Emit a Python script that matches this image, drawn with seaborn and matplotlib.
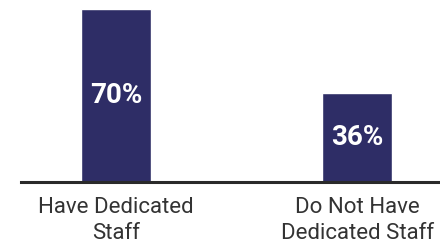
import seaborn as sns
import matplotlib.pyplot as plt
import pandas as pd

categories = ["Have Dedicated\nStaff", "Do Not Have\nDedicated Staff"]
values = [70, 36]
labels = ["70%", "36%"]

sns.set_style("white")
plt.rcParams['font.family'] = ['Roboto', 'DejaVu Sans']

df = pd.DataFrame({"cat": categories, "val": values})

fig = plt.figure(figsize=(4.4, 2.43), dpi=100)
ax = fig.add_axes([21 / 440, 61.5 / 243, 1 - 21 / 440, 172.5 / 243])

sns.barplot(data=df, x="cat", y="val", color="#2e2d66", saturation=1, width=0.29, ax=ax)

ax.bar_label(ax.containers[0], labels=labels, label_type="center",
             color="white", fontsize=20, fontweight="bold")

ax.set_xlim(-0.394, 1.344)
ax.set_ylim(0, 70)
ax.set_xlabel("")
ax.set_ylabel("")
ax.set_yticks([])
sns.despine(ax=ax, left=True)
ax.spines["bottom"].set_color("#2a2a2a")
ax.spines["bottom"].set_linewidth(2.2)
ax.tick_params(axis="x", length=0, pad=11, labelsize=16, labelcolor="#333333")
for t in ax.get_xticklabels():
    t.set_linespacing(1.35)

fig.savefig("out.png", dpi=100)
